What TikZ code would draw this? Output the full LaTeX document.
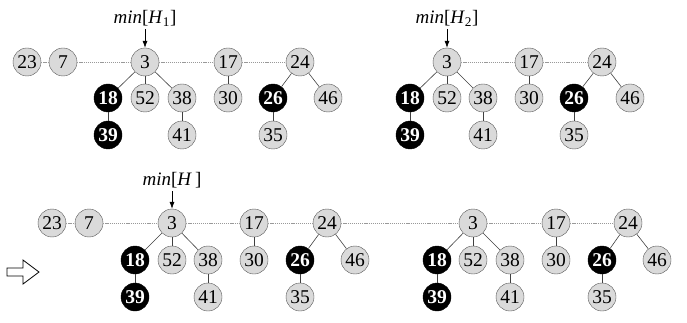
\documentclass[tikz,border=0pt]{standalone}
\usepackage{fontspec}
\setmainfont{Liberation Serif}
\usetikzlibrary{arrows.meta}
\definecolor{keygray}{HTML}{DADADA}
\definecolor{rimgray}{HTML}{555555}
\tikzset{
  key/.style={circle, draw=rimgray, fill=keygray, inner sep=0pt, minimum size=28pt,
    font=\fontsize{19.5}{19.5}\selectfont},
  mark key/.style={key, draw=black, fill=black, text=white, font=\fontsize{19.5}{19.5}\selectfont\bfseries},
  rootlink/.style={draw=gray!80, dash pattern=on 1.2pt off 0.9pt, line width=0.6pt},
  childlink/.style={draw=black!75, line width=0.6pt},
  minlabel/.style={font=\fontsize{19}{19}\selectfont, inner sep=1pt},
  pointer/.style={-{Latex[length=7pt,width=5pt]}, line width=0.6pt, shorten <=2pt}
}
\begin{document}
\begin{tikzpicture}[x=1pt,y=-1pt]
        \useasboundingbox (0,0) rectangle (687,323);
        % H1
        \node[minlabel] at (145,18) (minA) {\textit{min}[\textit{H}\textsubscript{1}]};
        \node[key] at (27,62) (a23) {23};
        \node[key] at (63,62) (a7) {7};
        \node[key] at (145,62) (a3) {3};
        \node[key] at (228,62) (a17) {17};
        \node[key] at (300,62) (a24) {24};
        \node[mark key] at (108,98) (a18) {18};
        \node[key] at (145,98) (a52) {52};
        \node[key] at (182,98) (a38) {38};
        \node[key] at (228,98) (a30) {30};
        \node[mark key] at (273,98) (a26) {26};
        \node[key] at (328,98) (a46) {46};
        \node[mark key] at (108,135) (a39) {39};
        \node[key] at (182,135) (a41) {41};
        \node[key] at (273,135) (a35) {35};
        % H2
        \node[minlabel] at (447,18) (minB) {\textit{min}[\textit{H}\textsubscript{2}]};
        \node[key] at (447,62) (b3) {3};
        \node[key] at (529,62) (b17) {17};
        \node[key] at (602,62) (b24) {24};
        \node[mark key] at (410,98) (b18) {18};
        \node[key] at (447,98) (b52) {52};
        \node[key] at (483,98) (b38) {38};
        \node[key] at (529,98) (b30) {30};
        \node[mark key] at (574,98) (b26) {26};
        \node[key] at (630,98) (b46) {46};
        \node[mark key] at (410,135) (b39) {39};
        \node[key] at (483,135) (b41) {41};
        \node[key] at (574,135) (b35) {35};
        % H = H1 + H2
        \node[minlabel] at (172,180) (minC) {\textit{min}[\textit{H}\,]};
        \node[key] at (52,223) (c23) {23};
        \node[key] at (89,223) (c7) {7};
        \node[key] at (172,223) (c3) {3};
        \node[key] at (254,223) (c17) {17};
        \node[key] at (327,223) (c24) {24};
        \node[mark key] at (135,260) (c18) {18};
        \node[key] at (172,260) (c52) {52};
        \node[key] at (208,260) (c38) {38};
        \node[key] at (254,260) (c30) {30};
        \node[mark key] at (300,260) (c26) {26};
        \node[key] at (355,260) (c46) {46};
        \node[mark key] at (135,297) (c39) {39};
        \node[key] at (208,297) (c41) {41};
        \node[key] at (300,297) (c35) {35};
        \node[key] at (473,223) (d3) {3};
        \node[key] at (556,223) (d17) {17};
        \node[key] at (628,223) (d24) {24};
        \node[mark key] at (437,260) (d18) {18};
        \node[key] at (473,260) (d52) {52};
        \node[key] at (510,260) (d38) {38};
        \node[key] at (556,260) (d30) {30};
        \node[mark key] at (602,260) (d26) {26};
        \node[key] at (657,260) (d46) {46};
        \node[mark key] at (437,297) (d39) {39};
        \node[key] at (510,297) (d41) {41};
        \node[key] at (602,297) (d35) {35};
        % pointers
        \draw[pointer] (minA) -- (a3);
        \draw[pointer] (minB) -- (b3);
        \draw[pointer] (minC) -- (c3);
        % root lists
        \draw[rootlink] (a23) -- (a7) -- (a3) -- (a17) -- (a24);
        \draw[rootlink] (b3) -- (b17) -- (b24);
        \draw[rootlink] (c23) -- (c7) -- (c3) -- (c17) -- (c24) -- (d3) -- (d17) -- (d24);
        % children
        \foreach \h in {a,b,c,d} {
          \draw[childlink] (\h3) -- (\h18);
          \draw[childlink] (\h3) -- (\h52);
          \draw[childlink] (\h3) -- (\h38);
          \draw[childlink] (\h18) -- (\h39);
          \draw[childlink] (\h38) -- (\h41);
          \draw[childlink] (\h17) -- (\h30);
          \draw[childlink] (\h24) -- (\h26);
          \draw[childlink] (\h24) -- (\h46);
          \draw[childlink] (\h26) -- (\h35);
        }
        % union arrow
        \draw[line width=0.8pt] (7,268) -- (23,268) -- (23,260) -- (39,272) -- (23,284) -- (23,276) -- (7,276) -- cycle;
      \end{tikzpicture}
\end{document}
